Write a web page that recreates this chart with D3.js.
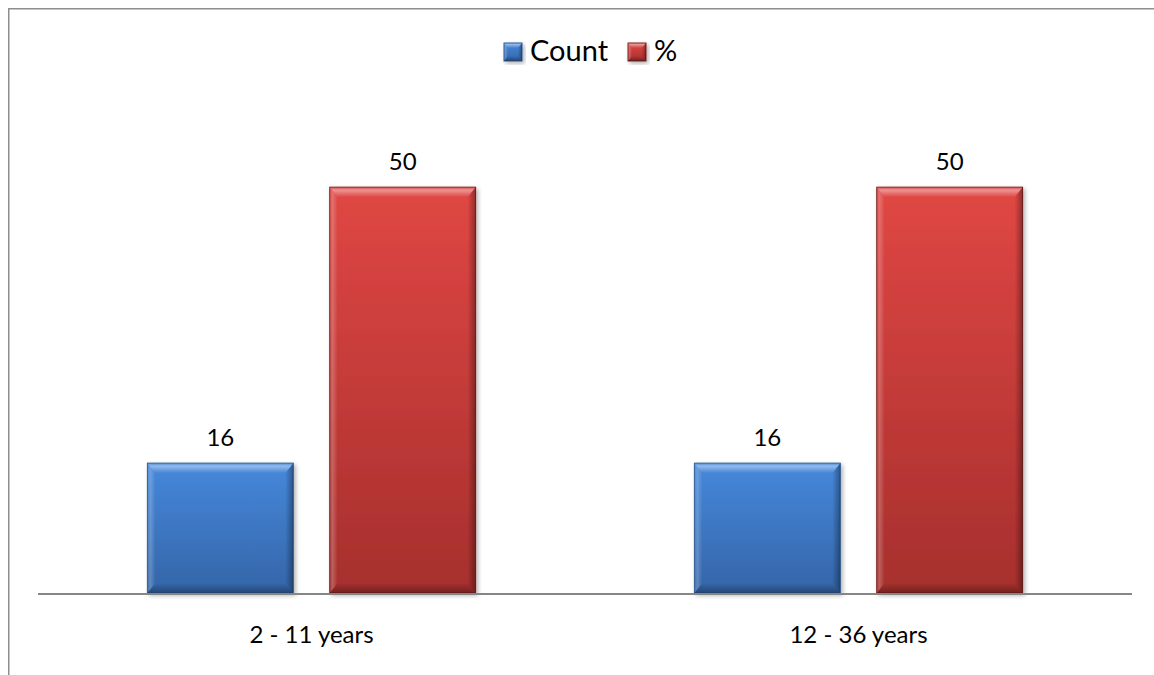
<!DOCTYPE html>
<html>
<head>
<meta charset="utf-8">
<script src="https://cdn.jsdelivr.net/npm/d3@7"></script>
<style>
  html, body { margin: 0; padding: 0; background: #ffffff; }
  svg { display: block; }
  text { font-family: Lato, "Open Sans", sans-serif; fill: #000; }
</style>
</head>
<body>
<svg id="chart" width="1154" height="675"></svg>
<script>
// ---- data ----
const categories = ["2 - 11 years", "12 - 36 years"];
const seriesNames = ["Count", "%"];
const countValues = [16, 16];
const percentValues = [50, 50];
const yDomain = [0, 60];

// ---- styling ----
const seriesColors = {
  "Count": { top: "#4688db", bottom: "#3465a8", edge: "#2b5a94" },
  "%":     { top: "#e04744", bottom: "#a62f2d", edge: "#7c2220" }
};
const gapWidth = 1.5;   // gap between category groups, as a fraction of bar width
const overlap = -0.25;  // negative overlap = space between bars in a group

const svg = d3.select("#chart");
const W = 1154, H = 675;
const plot = { left: 38, right: 1132, top: 106, bottom: 593 };

const rows = categories.map((c, i) => ({
  category: c,
  values: [
    { series: "Count", value: countValues[i] },
    { series: "%", value: percentValues[i] }
  ]
}));

// ---- scales ----
const x0 = d3.scaleBand().domain(categories).range([plot.left, plot.right]).padding(0);
const nSeries = seriesNames.length;
const barW = x0.bandwidth() / (nSeries - overlap * (nSeries - 1) + gapWidth);
const x1 = d3.scaleBand()
  .domain(seriesNames)
  .range([barW * gapWidth / 2, x0.bandwidth() - barW * gapWidth / 2])
  .paddingInner(-overlap / (1 - overlap))
  .paddingOuter(0);
const y = d3.scaleLinear().domain(yDomain).range([plot.bottom, plot.top]);

// ---- defs: gradients and shadow ----
const defs = svg.append("defs");
seriesNames.forEach((s, i) => {
  const g = defs.append("linearGradient").attr("id", "fill" + i)
    .attr("x1", 0).attr("y1", 0).attr("x2", 0).attr("y2", 1);
  g.append("stop").attr("offset", 0).attr("stop-color", seriesColors[s].top);
  g.append("stop").attr("offset", 1).attr("stop-color", seriesColors[s].bottom);
});
function grad(id, x1v, y1v, x2v, y2v, stops) {
  const g = defs.append("linearGradient").attr("id", id)
    .attr("x1", x1v).attr("y1", y1v).attr("x2", x2v).attr("y2", y2v);
  stops.forEach(([o, c, a]) => g.append("stop").attr("offset", o).attr("stop-color", c).attr("stop-opacity", a));
}
grad("bevTop", 0, 0, 0, 1, [[0, "#fff", 0.05], [0.3, "#fff", 0.42], [1, "#fff", 0]]);
grad("bevLeft", 0, 0, 1, 0, [[0, "#fff", 0.05], [0.35, "#fff", 0.22], [1, "#fff", 0]]);
grad("bevRight", 1, 0, 0, 0, [[0, "#000", 0.35], [1, "#000", 0]]);
grad("bevBottom", 0, 1, 0, 0, [[0, "#000", 0.3], [1, "#000", 0]]);

const shadow = defs.append("filter").attr("id", "shadow")
  .attr("x", "-10%").attr("y", "-10%").attr("width", "130%").attr("height", "130%");
shadow.append("feDropShadow").attr("dx", 2).attr("dy", 2).attr("stdDeviation", 2)
  .attr("flood-color", "#000").attr("flood-opacity", 0.3);

// ---- chart frame ----
svg.append("rect")
  .attr("x", 8.75).attr("y", 8.75).attr("width", W + 20).attr("height", H + 20)
  .attr("fill", "none").attr("stroke", "#8e8e8e").attr("stroke-width", 1.5);

// draws a bevelled box (used for bars and legend keys)
function bevelBox(sel, x, yy, w, h, idx, b) {
  const bt = Math.min(b, h / 2), bs = Math.min(b * 0.8, w / 2);
  sel.append("rect").attr("x", x).attr("y", yy).attr("width", w).attr("height", h)
    .attr("fill", `url(#fill${idx})`)
    .attr("stroke", seriesColors[seriesNames[idx]].edge).attr("stroke-width", 1)
    .attr("filter", "url(#shadow)");
  const p = (pts) => "M" + pts.map(q => q.join(",")).join("L") + "Z";
  sel.append("path").attr("d", p([[x, yy], [x + w, yy], [x + w - bs, yy + bt], [x + bs, yy + bt]])).attr("fill", "url(#bevTop)");
  sel.append("path").attr("d", p([[x, yy], [x + bs, yy + bt], [x + bs, yy + h - bt], [x, yy + h]])).attr("fill", "url(#bevLeft)");
  sel.append("path").attr("d", p([[x + w, yy], [x + w, yy + h], [x + w - bs, yy + h - bt], [x + w - bs, yy + bt]])).attr("fill", "url(#bevRight)");
  sel.append("path").attr("d", p([[x, yy + h], [x + bs, yy + h - bt], [x + w - bs, yy + h - bt], [x + w, yy + h]])).attr("fill", "url(#bevBottom)");
}

// ---- bars ----
const groups = svg.append("g").selectAll("g").data(rows).join("g")
  .attr("transform", d => `translate(${x0(d.category)},0)`);

groups.each(function(d) {
  const g = d3.select(this);
  d.values.forEach(v => {
    const idx = seriesNames.indexOf(v.series);
    const bx = x1(v.series), by = y(v.value), bh = y(0) - y(v.value);
    bevelBox(g.append("g"), bx, by, x1.bandwidth(), bh, idx, 10);
    g.append("text")
      .attr("x", bx + x1.bandwidth() / 2).attr("y", by - 17)
      .attr("text-anchor", "middle").attr("font-size", 24)
      .text(v.value);
  });
});

// ---- category axis ----
svg.append("line")
  .attr("x1", plot.left).attr("x2", plot.right)
  .attr("y1", plot.bottom + 1).attr("y2", plot.bottom + 1)
  .attr("stroke", "#868686").attr("stroke-width", 2);

svg.append("g").selectAll("text").data(categories).join("text")
  .attr("x", d => x0(d) + x0.bandwidth() / 2).attr("y", 643)
  .attr("text-anchor", "middle").attr("font-size", 24)
  .text(d => d);

// ---- legend ----
const legendItems = [
  { name: "Count", x: 504 },
  { name: "%", x: 628 }
];
const legend = svg.append("g");
legendItems.forEach((it, i) => {
  const g = legend.append("g");
  bevelBox(g, it.x, 43, 18, 18, seriesNames.indexOf(it.name), 5);
  g.append("text").attr("x", it.x + 26).attr("y", 61)
    .attr("font-size", 29).text(it.name);
});
</script>
</body>
</html>
